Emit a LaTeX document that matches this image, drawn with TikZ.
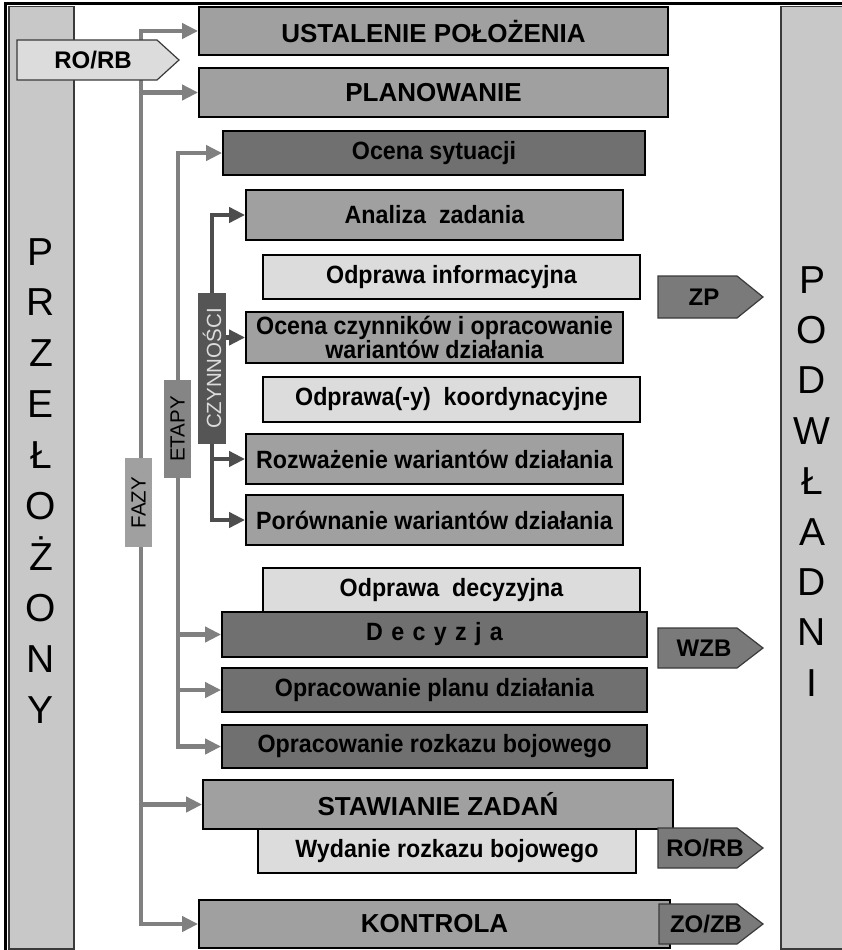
\documentclass[tikz,border=0pt]{standalone}
\usepackage{fontspec}
\setmainfont{Liberation Sans}
\newfontfamily\condfont{Liberation Sans}[FakeStretch=0.93]
\usetikzlibrary{arrows.meta}

\definecolor{cPanel}{HTML}{C8C8C8}
\definecolor{cMid}{HTML}{A0A0A0}
\definecolor{cDark}{HTML}{707070}
\definecolor{cLight}{HTML}{DCDCDC}
\definecolor{cTag}{HTML}{7A7A7A}
\definecolor{cEdge}{HTML}{3A3A3A}
\definecolor{cLine}{HTML}{808080}
\definecolor{cLineDark}{HTML}{4D4D4D}
\definecolor{cEtapy}{HTML}{858585}
\definecolor{cCzyn}{HTML}{555555}

\tikzset{
  box/.style={draw=black, line width=1.8pt, inner sep=0pt, align=center,
    text=black, font=\condfont\bfseries\fontsize{25}{23}\selectfont},
  title/.style={box, fill=cMid, font=\bfseries\fontsize{26}{28}\selectfont},
  stage/.style={box, fill=cDark},
  act/.style={box, fill=cMid},
  brief/.style={box, fill=cLight},
  tagbody/.style={draw=cEdge, line width=1.2pt, fill=cTag, line join=miter},
  tagtext/.style={inner sep=0pt, font=\bfseries\fontsize{24}{26}\selectfont},
  vlabel/.style={rotate=90, inner sep=0pt,
    font=\fontsize{20.5}{21}\selectfont},
  panel/.style={draw=cEdge, line width=1.5pt, fill=cPanel, inner sep=0pt},
  bigletter/.style={anchor=base, inner sep=0pt, font=\fontsize{39}{40}\selectfont},
  garrow/.style={draw=cLine, line width=4.5pt,
    -{Triangle[length=16pt,width=15pt]}},
  darrow/.style={draw=cLineDark, line width=4.5pt,
    -{Triangle[length=16pt,width=15pt]}},
}

\begin{document}
\begin{tikzpicture}[x=1pt,y=-1pt]
\useasboundingbox (0,0) rectangle (842,950);
\fill[white] (0,0) rectangle (842,950);

% side panels: superior (left) and subordinates (right)
\node[panel, minimum width=65, minimum height=942, anchor=north west] (lp) at (8,6) {};
\node[panel, minimum width=70, minimum height=942, anchor=north west] (rp) at (780,6) {};
\draw[line width=3pt] (5,950) -- (5,3.5) -- (842,3.5);

\foreach \l [count=\i] in {P,R,Z,E,Ł,O,Ż,O,N,Y}
  \node[bigletter] (sl\i) at (41,{265+50.9*(\i-1)}) {\l};
\foreach \l [count=\i] in {P,O,D,W,Ł,A,D,N,I}
  \node[bigletter] (pl\i) at (812,{293+50.4*(\i-1)}) {\l};

% main phases
\node[title, minimum width=469, minimum height=48] (ust) at (433.5,31) {USTALENIE POŁOŻENIA};
\node[title, minimum width=469, minimum height=49] (plan) at (433.5,92.5) {PLANOWANIE};

% stages and activities of planning
\node[stage, minimum width=422, minimum height=44] (ocs) at (434,153) {Ocena sytuacji};
\node[act, minimum width=377, minimum height=50] (ana) at (434.5,215) {Analiza\ \ zadania};
\node[brief, minimum width=377, minimum height=44] (odi) at (451.5,277) {Odprawa informacyjna};
\node[act, minimum width=377, minimum height=51] (ocz) at (434.5,337.5) {Ocena czynników i opracowanie\\wariantów działania};
\node[brief, minimum width=377, minimum height=45] (odk) at (451.5,399.5) {Odprawa(-y)\ \ koordynacyjne};
\node[act, minimum width=377, minimum height=50] (roz) at (434.5,459) {Rozważenie wariantów działania};
\node[act, minimum width=377, minimum height=50] (por) at (434.5,520) {Porównanie wariantów działania};
\node[brief, minimum width=377, minimum height=44] (odd) at (451.5,590) {Odprawa\ \ decyzyjna};
\node[stage, minimum width=425, minimum height=45] (dec) at (434.5,634.5) {D\,\,e\,\,c\,\,y\,\,z\,\,j\,\,a};
\node[stage, minimum width=425, minimum height=44] (opl) at (434.5,690) {Opracowanie planu działania};
\node[stage, minimum width=425, minimum height=43] (opr) at (434.5,746.5) {Opracowanie rozkazu bojowego};

\node[brief, minimum width=378, minimum height=44] (wyd) at (447,851) {Wydanie rozkazu bojowego};
\node[title, minimum width=470, minimum height=49] (staw) at (438,804.5) {STAWIANIE ZADAŃ};
\node[title, minimum width=471, minimum height=48] (kon) at (434.5,924) {KONTROLA};

% documents passed on to subordinates
\path[tagbody] (658,276) -- (737,276) -- (763,297) -- (737,318) -- (658,318) -- cycle;
\node[tagtext] (zp) at (704,297) {ZP};
\path[tagbody] (658,628) -- (737,628) -- (763,648) -- (737,668) -- (658,668) -- cycle;
\node[tagtext] (wzb) at (704,648) {WZB};
\path[tagbody] (658,828) -- (737,828) -- (763,848) -- (737,868) -- (658,868) -- cycle;
\node[tagtext] (rorbout) at (705,848) {RO/RB};
\path[tagbody] (659,904) -- (737,904) -- (763,924) -- (737,944) -- (659,944) -- cycle;
\node[tagtext] (zozb) at (706,924) {ZO/ZB};

% phases line
\coordinate (fTop) at (141,31);
\coordinate (fBot) at (141,924);
\draw[garrow] (fBot) -- (fTop) -- (ust.west);
\draw[garrow] (fTop) -- (fBot) -- (kon.west);
\draw[garrow] (fTop |- plan.west) -- (plan.west);
\draw[garrow] (fTop |- staw.west) -- (staw.west);

% stages line
\coordinate (eTop) at (178,153);
\coordinate (eBot) at (178,746.5);
\draw[garrow] (eBot) -- (eTop) -- (ocs.west);
\draw[garrow] (eTop) -- (eBot) -- (opr.west);
\draw[garrow] (eTop |- dec.west) -- (dec.west);
\draw[garrow] (eTop |- opl.west) -- (opl.west);

% labels on the lines
\node[vlabel, fill=cMid, minimum width=89, minimum height=27] (fazy) at (138.5,502.5) {FAZY};
\node[vlabel, fill=cEtapy, minimum width=98, minimum height=27] (etapy) at (177.5,429) {ETAPY};
\node[vlabel, fill=cCzyn, text=cLight, minimum width=151, minimum height=28] (czyn) at (212,368.5) {CZYNNOŚCI};

% activities line
\draw[darrow] (czyn.east) -- (czyn.east |- ana.west) -- (ana.west);
\draw[darrow] (czyn.south |- ocz.west) -- (ocz.west);
\draw[darrow] (czyn.west) -- (czyn.west |- por.west) -- (por.west);
\draw[darrow] (czyn.west |- roz.west) -- (roz.west);

% incoming order tag, drawn over the phases line
\path[tagbody, fill=cLight] (17,40) -- (157,40) -- (179,60) -- (157,80) -- (17,80) -- cycle;
\node[tagtext] (rorbin) at (93,60) {RO/RB};
\end{tikzpicture}
\end{document}
